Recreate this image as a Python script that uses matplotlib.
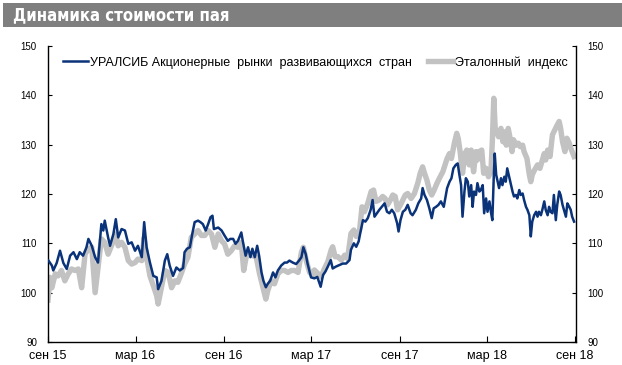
import pandas as pd
import matplotlib
matplotlib.use('Agg')
from matplotlib import pyplot as plt
from matplotlib.patches import Rectangle

start = pd.Timestamp('2015-09-01')

# УРАЛСИБ Акционерные рынки развивающихся стран (дни от 01.09.2015, значение)
ural_days = [1, 8, 11, 18, 25, 32, 39, 46, 53, 60, 66, 73, 80, 84, 91, 98, 104, 111, 115, 118,
             125, 129, 136, 141, 146, 153, 160, 167, 174, 181, 187, 195, 200, 205, 212, 219, 226,
             229, 236, 243, 248, 253, 260, 267, 274, 281, 284, 289, 295, 300, 305, 312, 317, 322,
             328, 333, 338, 342, 345, 354, 361, 367, 374, 379, 385, 390, 395, 402, 405, 411, 416,
             421, 425, 430, 435, 439, 444, 448, 453, 457, 462, 468, 473, 478, 485, 492, 497, 502,
             509, 516, 522, 527, 531, 536, 540, 547, 554, 560, 567, 572, 577, 582, 588, 592, 599,
             606, 613, 620, 627, 630, 636, 641, 646, 650, 655, 660, 665, 671, 675, 679, 684, 689,
             694, 700, 705, 710, 715, 720, 726, 729, 733, 738, 743, 748, 754, 758, 765, 770, 776,
             779, 783, 788, 793, 798, 802, 807, 812, 817, 823, 830, 835, 839, 843, 848, 852, 855,
             859, 862, 866, 869, 873, 876, 880, 883, 886, 890, 893, 897, 900, 904, 907, 911, 914,
             918, 921, 924, 927, 929, 932, 935, 938, 942, 945, 949, 952, 955, 959, 963, 966, 969,
             973, 976, 980, 983, 987, 990, 994, 997, 1001, 1004, 1007, 1011, 1015, 1018, 1021,
             1025, 1028, 1032, 1035, 1039, 1042, 1045, 1049, 1052, 1056, 1059, 1063, 1066, 1070,
             1073, 1077, 1080, 1084, 1087, 1090, 1094]
ural = [106.5, 105.5, 104.5, 106.0, 108.5, 106.0, 104.8, 107.5, 108.2, 106.8, 108.2, 107.5, 109.2,
        110.9, 109.5, 107.2, 106.1, 113.9, 112.6, 114.6, 111.2, 109.5, 111.9, 114.9, 111.2, 112.9,
        112.6, 109.9, 110.2, 108.5, 109.5, 107.2, 114.3, 109.2, 106.1, 103.4, 103.1, 100.7, 102.4,
        106.5, 107.8, 105.5, 103.4, 105.1, 104.5, 105.0, 108.2, 108.9, 109.2, 111.9, 114.3, 114.6,
        114.3, 113.9, 112.6, 113.9, 115.3, 115.6, 112.9, 113.2, 112.6, 111.6, 110.5, 110.9, 110.9,
        109.9, 110.5, 112.2, 110.5, 107.5, 109.2, 107.2, 108.9, 107.2, 109.5, 107.5, 104.1, 102.4,
        101.1, 101.8, 102.4, 104.1, 103.1, 104.5, 105.5, 106.1, 106.1, 106.5, 106.1, 105.8, 106.5,
        107.2, 109.2, 107.8, 105.8, 103.1, 102.9, 103.2, 101.2, 103.6, 104.3, 105.3, 106.6, 104.9,
        105.3, 105.6, 105.9, 105.9, 106.6, 108.7, 110.0, 109.3, 110.4, 112.4, 114.7, 114.4, 115.1,
        116.8, 118.8, 115.4, 116.1, 116.8, 117.4, 118.1, 116.4, 116.1, 116.8, 116.1, 114.1, 112.4,
        114.7, 116.4, 116.8, 117.8, 116.1, 115.7, 116.8, 118.1, 119.1, 121.2, 119.8, 118.8, 117.1,
        115.1, 117.1, 117.4, 117.8, 118.5, 117.4, 121.2, 122.5, 123.2, 125.2, 125.9, 126.2, 124.2,
        121.8, 115.4, 120.5, 123.2, 122.5, 119.5, 121.8, 117.4, 120.5, 119.8, 122.2, 120.5, 120.8,
        121.8, 116.1, 119.1, 116.4, 118.5, 116.4, 114.7, 123.5, 128.2, 123.9, 122.5, 121.2, 123.2,
        121.8, 123.5, 122.5, 125.2, 123.5, 121.8, 120.5, 119.5, 119.8, 119.1, 120.8, 119.8, 120.1,
        118.8, 117.4, 116.8, 115.7, 111.4, 114.4, 115.7, 116.4, 115.4, 116.4, 115.7, 116.8, 118.5,
        116.8, 115.7, 117.4, 116.4, 116.1, 119.8, 114.7, 117.8, 120.5, 119.8, 117.8, 116.8, 115.4,
        118.1, 117.4, 116.8, 115.4, 114.4]

# Эталонный индекс
etalon_days = [0, 4, 8, 15, 21, 28, 35, 42, 49, 56, 63, 70, 77, 84, 91, 98, 104, 111, 118, 125,
               132, 141, 146, 153, 160, 167, 174, 181, 187, 195, 200, 205, 212, 219, 226, 229, 236,
               243, 250, 257, 264, 270, 278, 284, 291, 298, 305, 312, 319, 326, 333, 340, 347, 354,
               361, 367, 374, 381, 388, 395, 402, 407, 412, 419, 426, 433, 440, 447, 453, 457, 464,
               471, 478, 485, 492, 499, 506, 513, 520, 527, 531, 537, 544, 551, 554, 561, 568, 575,
               582, 589, 592, 597, 603, 610, 617, 623, 630, 636, 641, 648, 653, 658, 665, 672, 677,
               682, 689, 696, 701, 706, 712, 717, 722, 727, 733, 738, 743, 748, 755, 762, 769, 774,
               779, 783, 788, 793, 798, 803, 809, 814, 821, 830, 835, 839, 845, 850, 853, 857, 862,
               867, 871, 876, 880, 885, 890, 893, 897, 902, 906, 911, 916, 921, 924, 927, 930, 934,
               937, 942, 946, 949, 953, 957, 961, 965, 968, 973, 978, 982, 987, 990, 996, 1001, 1004,
               1007, 1012, 1018, 1023, 1028, 1032, 1035, 1039, 1044, 1049, 1054, 1059, 1063, 1066,
               1070, 1075, 1079, 1084, 1087, 1090, 1094]
etalon = [98.5, 103.1, 101.0, 103.8, 103.4, 104.5, 102.4, 103.8, 104.8, 104.5, 104.8, 101.0, 107.8,
          108.9, 109.2, 100.0, 105.1, 110.9, 110.2, 107.8, 109.5, 111.9, 109.5, 110.2, 109.2, 106.5,
          105.8, 106.1, 106.8, 106.5, 111.2, 107.2, 103.4, 101.4, 99.4, 97.7, 101.1, 104.5, 104.1,
          101.0, 102.4, 102.1, 104.1, 105.8, 107.2, 111.2, 111.9, 112.6, 111.6, 111.6, 112.6, 111.9,
          109.2, 111.9, 110.5, 109.9, 107.8, 108.5, 109.5, 109.2, 110.2, 104.5, 107.2, 107.8, 107.5,
          107.2, 103.8, 101.1, 98.7, 100.4, 102.4, 101.8, 103.8, 104.5, 104.5, 104.1, 104.5, 104.5,
          104.1, 108.2, 109.2, 106.5, 104.1, 103.4, 104.6, 103.9, 103.2, 104.9, 106.3, 108.7, 109.3,
          107.3, 107.3, 106.6, 107.6, 106.9, 112.0, 112.7, 111.4, 112.7, 117.4, 116.4, 118.1, 120.5,
          120.8, 118.5, 118.8, 119.5, 119.1, 117.8, 118.8, 119.8, 119.5, 116.8, 117.8, 118.8, 119.8,
          120.1, 119.1, 120.1, 122.2, 124.2, 125.5, 124.2, 122.8, 120.8, 119.8, 120.8, 122.2, 123.2,
          124.5, 127.2, 128.2, 127.2, 130.3, 132.3, 131.3, 128.6, 124.2, 128.2, 128.9, 125.9, 128.9,
          124.5, 128.6, 126.9, 128.6, 128.9, 124.2, 125.2, 123.5, 124.5, 130.6, 139.4, 133.3, 132.3,
          131.6, 133.3, 130.6, 132.6, 129.9, 133.3, 131.3, 128.6, 131.0, 129.9, 130.3, 129.6, 129.9,
          128.6, 127.2, 123.9, 122.5, 123.9, 124.9, 125.9, 125.2, 126.9, 128.2, 126.9, 128.9, 127.6,
          132.0, 133.0, 134.0, 134.7, 133.3, 130.6, 128.6, 131.3, 130.3, 129.3, 128.6, 127.6]

tick_dates = ['2015-09-01', '2016-03-01', '2016-09-01', '2017-03-01',
              '2017-09-01', '2018-03-01', '2018-09-01']
tick_labels = ['сен 15', 'мар 16', 'сен 16', 'мар 17', 'сен 17', 'мар 18', 'сен 18']
y_ticks = [90, 100, 110, 120, 130, 140, 150]

ural_x = start + pd.to_timedelta(ural_days, unit='D')
etalon_x = start + pd.to_timedelta(etalon_days, unit='D')

plt.rcParams['font.family'] = ['Liberation Sans', 'DejaVu Sans']

fig = plt.figure(figsize=(6.22, 3.65), dpi=100)
fig.patch.set_facecolor('white')

# серая плашка заголовка
fig.patches.append(Rectangle((3 / 622, 1 - 27 / 365), 1, 24 / 365, transform=fig.transFigure,
                             facecolor='#7f7f7f', edgecolor='none'))
fig.text(13 / 622, 1 - 15 / 365, 'Динамика стоимости пая', color='white', fontsize=12,
         fontweight='bold', family='DejaVu Sans', fontstretch='condensed',
         va='center', ha='left')

ax = fig.add_axes([48 / 622, 23 / 365, 528 / 622, 296 / 365])

# эталон: толстая серая линия
ax.plot(etalon_x, etalon, color='#c2c2c2', lw=3.9, solid_joinstyle='round', zorder=2,
        label='Эталонный  индекс')
ax.plot(ural_x, ural, color='#0a337a', lw=1.8, zorder=3,
        label='УРАЛСИБ Акционерные  рынки  развивающихся  стран')

ax.set_xlim(pd.Timestamp('2015-09-01'), pd.Timestamp('2018-09-03'))
ax.set_ylim(90, 150)
ax.set_xticks(pd.to_datetime(tick_dates))
ax.set_xticklabels(tick_labels, fontsize=9)
ax.set_yticks(y_ticks)
ax.tick_params(axis='y', labelsize=7, direction='in', length=3, left=True, right=True,
               labelleft=True, labelright=True, pad=8)
ax.tick_params(axis='x', direction='in', length=4, pad=6)
ax.spines['top'].set_visible(False)
for s in ['left', 'right', 'bottom']:
    ax.spines[s].set_linewidth(1.0)
    ax.spines[s].set_color('black')

h, l = ax.get_legend_handles_labels()
ax.legend(h[::-1], l[::-1], loc='upper left', bbox_to_anchor=(15 / 528, 0.966), ncol=2,
          frameon=False, fontsize=9, handlelength=2.0, handletextpad=0.15, columnspacing=1.3,
          borderaxespad=0, borderpad=0)

plt.savefig('out.png', dpi=100)
